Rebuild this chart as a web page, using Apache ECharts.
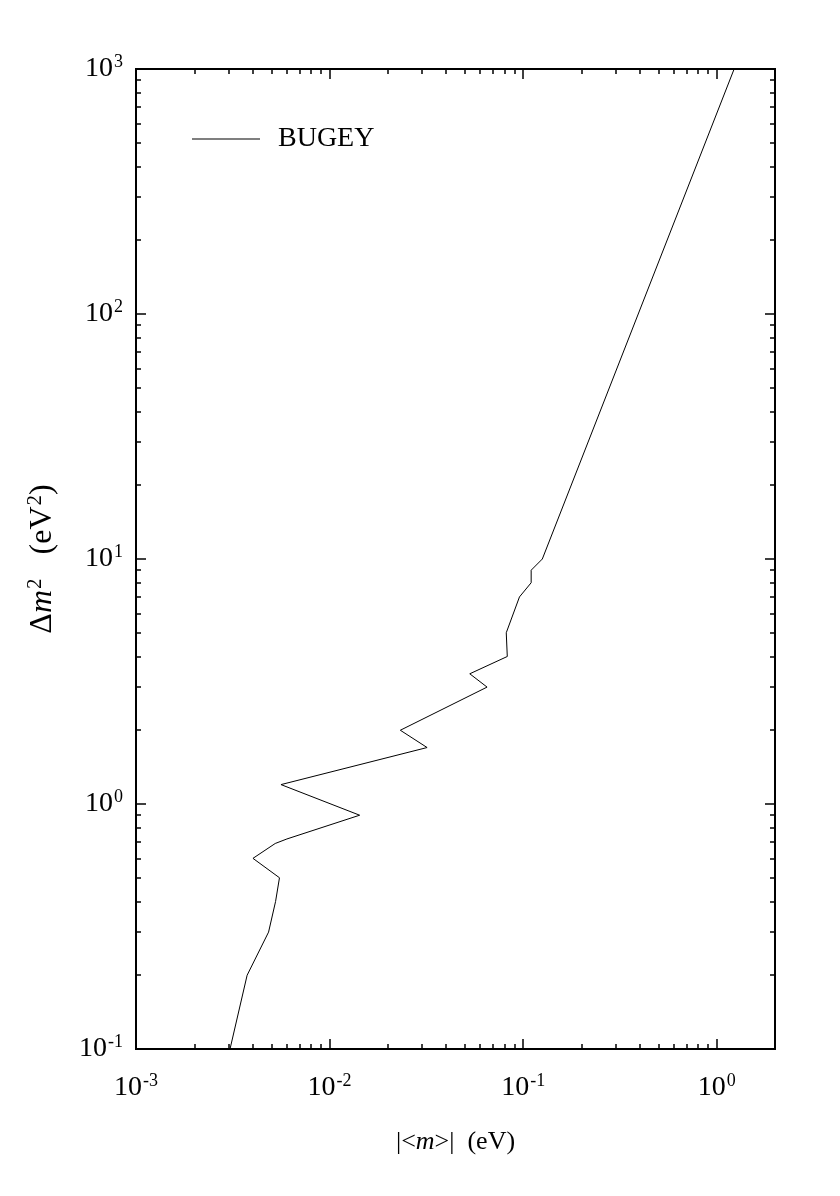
<!DOCTYPE html>
<html><head><meta charset="utf-8">
<script src="https://cdn.jsdelivr.net/npm/echarts@6/dist/echarts.min.js"></script>
<style>html,body{margin:0;padding:0;background:#fff}#c{width:840px;height:1196px}</style>
</head><body><div id="c"></div>
<script>
const seriesName = 'BUGEY';
// |<m>| (eV)
const massValues = [0.00306, 0.00375, 0.00484, 0.00526, 0.00551, 0.00402, 0.00524, 0.00602, 0.0143, 0.00561, 0.0319, 0.0232, 0.0651, 0.053, 0.0828, 0.0818, 0.0957, 0.110, 0.110, 0.1256, 1.23];
// Δm² (eV²)
const dm2Values  = [0.1, 0.2, 0.3, 0.4, 0.5, 0.6, 0.69, 0.72, 0.9, 1.2, 1.7, 2.0, 3.0, 3.4, 4.0, 5.0, 7.0, 8.0, 9.0, 10, 1000];
const xMajorTicks = [0.001, 0.01, 0.1, 1];
const xMinorTicks = [0.002,0.003,0.004,0.005,0.006,0.007,0.008,0.009,0.02,0.03,0.04,0.05,0.06,0.07,0.08,0.09,0.2,0.3,0.4,0.5,0.6,0.7,0.8,0.9];
const yMajorTicks = [0.1, 1, 10, 100, 1000];
const yMinorTicks = [0.2,0.3,0.4,0.5,0.6,0.7,0.8,0.9,2,3,4,5,6,7,8,9,20,30,40,50,60,70,80,90,200,300,400,500,600,700,800,900];

const FONT = 'Liberation Serif';
const black = '#000';
const rich = {
  b: {fontFamily: FONT, fontSize: 28, color: black, lineHeight: 32},
  s: {fontFamily: FONT, fontSize: 18, color: black, lineHeight: 32, verticalAlign: 'top', padding: [0,0,0,1]},
  i: {fontFamily: FONT, fontSize: 28, color: black, fontStyle: 'italic', lineHeight: 32}
};
const xNameRich = {
  b: {fontFamily: FONT, fontSize: 26, color: black, lineHeight: 30},
  i: {fontFamily: FONT, fontSize: 26, color: black, fontStyle: 'italic', lineHeight: 30}
};
const yNameRich = {
  b: {fontFamily: FONT, fontSize: 32, color: black, lineHeight: 36},
  s: {fontFamily: FONT, fontSize: 21, color: black, lineHeight: 36, verticalAlign: 'top', padding: [0,0,0,1]},
  i: {fontFamily: FONT, fontSize: 32, color: black, fontStyle: 'italic', lineHeight: 36}
};
const pow10 = v => '{b|10}{s|' + Math.round(Math.log10(v)) + '}';

function axisSet(kind, pos, major, label, extra) {
  const isX = kind === 'x';
  const base = {
    type: 'log', logBase: 10, position: pos,
    min: isX ? 0.001 : 0.1, max: isX ? 2 : 1000,
    splitLine: {show: false},
    axisLine: {show: true, onZero: false, lineStyle: {color: black, width: 2}},
    axisTick: {show: true, inside: true, length: major ? 10 : 5,
      customValues: major ? (isX ? xMajorTicks : yMajorTicks) : (isX ? xMinorTicks : yMinorTicks),
      lineStyle: {color: black, width: 1.5}},
    axisLabel: {show: false}
  };
  if (label) {
    base.axisLabel = {show: true, customValues: isX ? xMajorTicks : yMajorTicks,
      formatter: pow10, rich: rich, margin: isX ? 23 : 13, color: black};
  }
  return Object.assign(base, extra || {});
}

const chart = echarts.init(document.getElementById('c'), null, {renderer: 'canvas'});
chart.setOption({
  animation: false,
  backgroundColor: '#fff',
  grid: {left: 136, right: 65, top: 69, bottom: 147, containLabel: false, outerBoundsMode: 'none'},
  legend: {
    data: [seriesName], left: 192, top: 125, padding: 0, icon: 'rect', itemWidth: 68, itemHeight: 1,
    textStyle: {fontFamily: FONT, fontSize: 28, color: black, padding: [0,0,0,13]}
  },
  xAxis: [
    axisSet('x', 'bottom', true, true, {
      name: '{b||<}{i|m}{b|>|  (eV)}', nameLocation: 'middle', nameGap: 78,
      nameTextStyle: {rich: xNameRich}
    }),
    axisSet('x', 'bottom', false, false),
    axisSet('x', 'top', true, false),
    axisSet('x', 'top', false, false)
  ],
  yAxis: [
    axisSet('y', 'left', true, true, {
      name: '{b|Δ}{i|m}{s|2}{b|   (eV}{s|2}{b|)}', nameLocation: 'middle', nameGap: 75, nameRotate: 90,
      nameTextStyle: {rich: yNameRich}
    }),
    axisSet('y', 'left', false, false),
    axisSet('y', 'right', true, false),
    axisSet('y', 'right', false, false)
  ],
  series: [{
    name: seriesName, type: 'line', xAxisIndex: 0, yAxisIndex: 0,
    showSymbol: false, symbol: 'none',
    lineStyle: {color: black, width: 1}, itemStyle: {color: black},
    data: massValues.map((m, i) => [m, dm2Values[i]])
  }]
});
</script></body></html>
